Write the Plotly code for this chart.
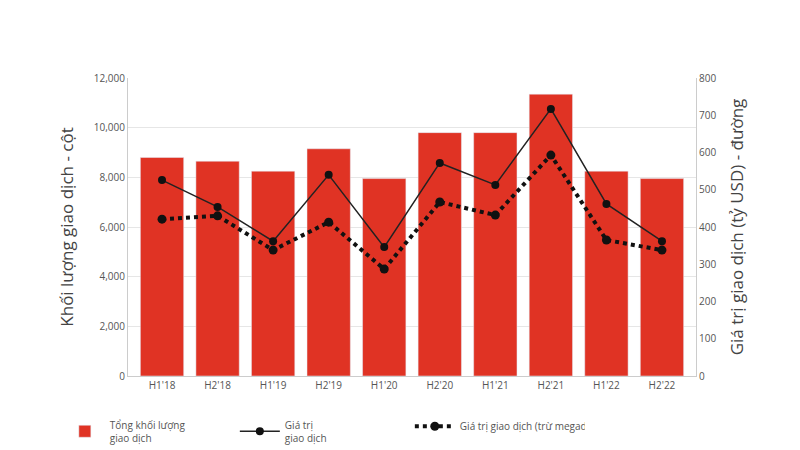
import plotly.graph_objects as go

periods = ["H1'18", "H2'18", "H1'19", "H2'19", "H1'20", "H2'20", "H1'21", "H2'21", "H1'22", "H2'22"]
volume = [8800, 8650, 8250, 9150, 7950, 9800, 9800, 11350, 8250, 7950]
value = [526, 454, 362, 540, 346, 572, 513, 717, 462, 362]
value_ex_mega = [421, 430, 338, 413, 287, 467, 432, 593, 365, 338]

fig = go.Figure()
fig.add_trace(go.Bar(x=periods, y=volume, name="Tổng khối lượng<br>giao dịch",
                     marker=dict(color="#e03324"), width=0.78))
fig.add_trace(go.Scatter(x=periods, y=value, name="Giá trị<br>giao dịch", yaxis="y2",
                         mode="lines+markers", line=dict(color="#222222", width=1.5),
                         marker=dict(color="#111111", size=8)))
fig.add_trace(go.Scatter(x=periods, y=value_ex_mega, name="Giá trị giao dịch (trừ megadeal)",
                         yaxis="y2", mode="lines+markers",
                         line=dict(color="#111111", width=4, dash="dot"),
                         marker=dict(color="#111111", size=9)))

fig.update_layout(
    width=800, height=450,
    paper_bgcolor="white", plot_bgcolor="white",
    font=dict(family="Open Sans", color="#555555", size=10),
    margin=dict(l=120, r=112, t=70, b=82, autoexpand=False),
    xaxis=dict(showgrid=False, showline=True, linecolor="#cccccc", tickfont=dict(size=10)),
    yaxis=dict(range=[0, 12000], dtick=2000, tickformat=",", gridcolor="#e6e6e6",
               showline=True, linecolor="#cccccc",
               title=dict(text="Khối lượng giao dịch - cột", font=dict(size=17, color="#444444"))),
    yaxis2=dict(range=[0, 800], dtick=100, overlaying="y", side="right", showgrid=False,
                showline=True, linecolor="#cccccc",
                title=dict(text="Giá trị giao dịch (tỷ USD) - đường", font=dict(size=17, color="#444444"))),
    legend=dict(orientation="h", x=-0.12, xanchor="left", y=-0.12, yanchor="top",
                font=dict(size=10), itemwidth=40, entrywidth=120),
    showlegend=True,
)

fig.write_html("out.html")
